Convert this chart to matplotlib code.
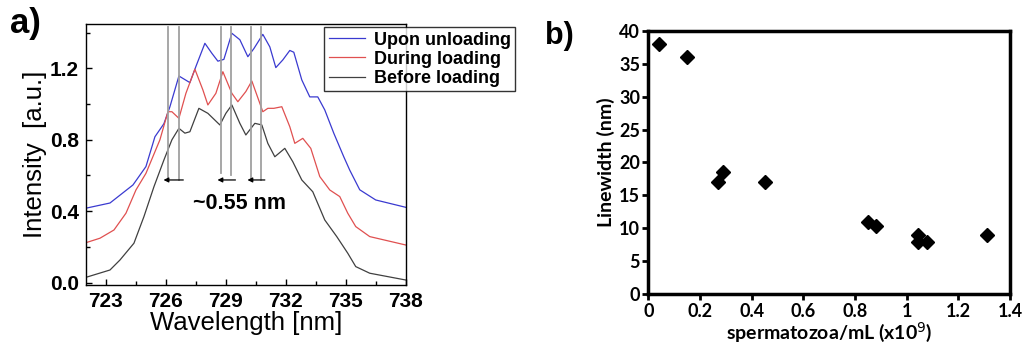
import numpy as np
import matplotlib
matplotlib.use("Agg")
import matplotlib.pyplot as plt
from matplotlib.ticker import MultipleLocator

# ---- panel a : spectra ----
wl_blue = [722.0, 723.2, 724.35, 725.0, 725.45, 725.9, 726.2, 726.65, 727.2, 727.5, 727.95,
           728.3, 728.6, 728.9, 729.3, 729.7, 730.1, 730.4, 730.85, 731.2, 731.5, 731.85,
           732.2, 732.4, 732.8, 733.2, 733.6, 733.95, 734.4, 734.9, 735.2, 735.7, 736.5, 738.0]
I_blue = [0.417, 0.446, 0.547, 0.65, 0.817, 0.89, 0.985, 1.157, 1.12, 1.21, 1.34,
          1.284, 1.24, 1.25, 1.396, 1.36, 1.265, 1.31, 1.39, 1.32, 1.204, 1.247,
          1.30, 1.29, 1.135, 1.04, 1.04, 0.967, 0.837, 0.705, 0.63, 0.52, 0.463, 0.422]

wl_red = [722.0, 722.7, 723.4, 724.0, 724.5, 725.0, 725.7, 726.1, 726.3, 726.65, 727.0,
          727.45, 727.85, 728.1, 728.5, 728.85, 729.3, 729.6, 730.0, 730.3, 730.85, 731.1,
          731.4, 731.8, 732.2, 732.45, 732.85, 733.25, 733.7, 734.2, 734.7, 735.1, 735.5,
          736.2, 738.0]
I_red = [0.224, 0.249, 0.295, 0.389, 0.519, 0.612, 0.80, 0.957, 0.957, 0.92, 1.06,
         1.195, 1.079, 0.995, 1.06, 1.181, 1.06, 1.013, 1.07, 1.129, 0.957, 0.976,
         0.976, 0.985, 0.873, 0.78, 0.808, 0.752, 0.594, 0.519, 0.482, 0.389, 0.314,
         0.258, 0.211]

wl_black = [722.0, 723.2, 723.7, 724.4, 724.9, 725.4, 725.9, 726.3, 726.65, 726.95, 727.2,
            727.65, 728.1, 728.7, 729.0, 729.3, 729.7, 730.0, 730.45, 730.8, 731.1, 731.45,
            731.95, 732.35, 732.8, 733.35, 733.95, 734.55, 735.1, 735.5, 736.2, 738.0]
I_black = [0.03, 0.071, 0.127, 0.221, 0.37, 0.537, 0.687, 0.80, 0.864, 0.837, 0.845,
           0.976, 0.948, 0.883, 0.948, 0.995, 0.892, 0.827, 0.892, 0.883, 0.78, 0.705,
           0.752, 0.677, 0.575, 0.509, 0.351, 0.258, 0.165, 0.09, 0.053, 0.015]

# gray marker lines (pairs) and their bottom ends
mark_wl = [726.08, 726.67, 728.78, 729.28, 730.28, 730.75]
mark_bot = [0.575, 0.575, 0.614, 0.60, 0.575, 0.575]

# ---- panel b : linewidth vs concentration ----
conc = [0.04, 0.15, 0.27, 0.29, 0.45, 0.85, 0.88, 1.045, 1.045, 1.08, 1.31]
linewidth = [38, 36, 17, 18.5, 17, 11, 10.4, 9, 7.9, 7.9, 9]


fig = plt.figure(figsize=(10.25, 3.45), dpi=100)

# ============ a) ============
ax = fig.add_axes([0.0839, 0.1739, 0.3119, 0.7565])
ax.plot(wl_blue, I_blue, color='#3a3ad0', lw=0.9, label='Upon unloading')
ax.plot(wl_red, I_red, color='#e05050', lw=0.9, label='During loading')
ax.plot(wl_black, I_black, color='#404040', lw=0.9, label='Before loading')
for w, b in zip(mark_wl, mark_bot):
  ax.plot([w, w], [b, 1.434], color='#a0a0a0', lw=1.3, zorder=3)
for k in range(0, 6, 2):
  ax.annotate('', xy=(mark_wl[k] - 0.2, 0.575), xytext=(mark_wl[k+1] + 0.2, 0.575),
              arrowprops=dict(arrowstyle='-|>', color='black', lw=0.9,
                              mutation_scale=7, shrinkA=0, shrinkB=0))
ax.text(729.7, 0.445, '~0.55 nm', ha='center', va='center', fontsize=15.5,
        fontweight='bold', family='Liberation Sans')

ax.set_xlim(722, 738)
ax.set_ylim(-0.013, 1.448)
ax.xaxis.set_major_locator(MultipleLocator(3))
ax.xaxis.set_minor_locator(MultipleLocator(1.5))
ax.yaxis.set_minor_locator(MultipleLocator(0.2))
ax.set_yticks([0, 0.4, 0.8, 1.2])
ax.set_yticklabels(['0.0', '0.4', '0.8', '1.2'])
ax.tick_params(which='both', direction='in', top=False, right=False, width=1)
ax.tick_params(which='major', length=4, labelsize=15, pad=5)
ax.tick_params(which='minor', length=3)
for lab in ax.get_xticklabels() + ax.get_yticklabels():
  lab.set_fontweight('bold')
  lab.set_family('Liberation Sans')
ax.set_xlabel('Wavelength [nm]', fontsize=18.5, family='Liberation Sans', labelpad=0)
ax.set_ylabel('Intensity  [a.u.]', fontsize=18.5, family='Liberation Sans', labelpad=2)
for s in ax.spines.values():
  s.set_linewidth(1)

leg = ax.legend(loc='upper left', bbox_to_anchor=(324/1025, 1 - 27/345),
                bbox_transform=fig.transFigure, frameon=True, fancybox=False,
                edgecolor='black', handlelength=2.0, handletextpad=0.5,
                borderpad=0.25, labelspacing=0.12, borderaxespad=0,
                prop=dict(family='Liberation Sans', weight='bold', size=13))
leg.get_frame().set_linewidth(1)

fig.text(10/1025, 1 - 24/345, 'a)', fontsize=25, fontweight='bold',
         family='Liberation Sans', va='center', ha='left')

# ============ b) ============
bx = fig.add_axes([0.6325, 0.147, 0.3529, 0.764])
bx.plot(conc, linewidth, 'D', color='black', ms=7, ls='none')
bx.set_xlim(0, 1.4)
bx.set_ylim(0, 40)
bx.set_xticks(np.arange(0, 1.41, 0.2))
bx.set_xticklabels(['0', '0.2', '0.4', '0.6', '0.8', '1', '1.2', '1.4'])
bx.set_yticks(range(0, 41, 5))
bx.tick_params(direction='out', length=4, width=2, labelsize=13, pad=2)
for lab in bx.get_xticklabels() + bx.get_yticklabels():
  lab.set_fontweight('bold')
  lab.set_family('Lato')
for s in bx.spines.values():
  s.set_linewidth(2.5)
bx.set_xlabel('spermatozoa/mL (x10$^{9}$)', fontsize=14, fontweight='bold',
              family='Lato', labelpad=0)
bx.set_ylabel('Linewidth (nm)', fontsize=14, fontweight='bold', family='Lato', labelpad=3)

fig.text(545/1025, 1 - 36/345, 'b)', fontsize=22, fontweight='bold',
         family='Liberation Sans', va='center', ha='left')

fig.savefig('out.png', dpi=100)
